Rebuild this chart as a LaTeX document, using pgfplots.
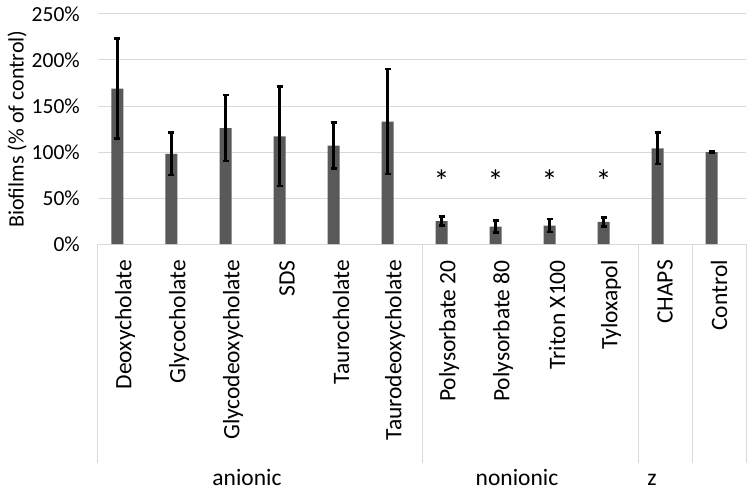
\documentclass[border=0pt]{standalone}
\usepackage{pgfplots}
\pgfplotsset{compat=1.18}
\usepackage{pgfplotstable}
\usepackage{fontspec}
\setmainfont{Carlito}
\definecolor{barg}{RGB}{89,89,89}
\definecolor{gridg}{RGB}{217,217,217}
\pgfplotstableread{
x y e
0 169 54.5
1 98 23
2 126 36
3 117 54
4 107 25
5 133 57
6 25 5
7 19 6.5
8 20 7
9 24 5
10 104 17
11 100 0.6
}\data
\begin{document}
\begin{tikzpicture}
\begin{axis}[
  scale only axis, width=648pt, height=230pt,
  xmin=-0.5, xmax=11.5, ymin=0, ymax=250,
  clip=false,
  axis line style={draw=none},
  xtick={0,...,11},
  xticklabels={Deoxycholate,Glycocholate,Glycodeoxycholate,SDS,Taurocholate,Taurodeoxycholate,Polysorbate 20,Polysorbate 80,Triton X100,Tyloxapol,CHAPS,Control},
  ytick={0,50,...,250},
  yticklabels={0\%,50\%,100\%,150\%,200\%,250\%},
  ymajorgrids, major grid style={draw=gridg, line width=1pt},
  major tick length=0pt,
  tick label style={font=\fontsize{23.5}{28}\selectfont, text=black, inner sep=0pt},
  yticklabel style={font=\fontsize{21.5}{26}\selectfont},
  yticklabel shift=18pt,
  xticklabel style={anchor=east, rotate=90},
  xticklabel shift=16pt,
  ylabel={Biofilms (\% of control)},
  ylabel style={font=\fontsize{22}{26}\selectfont, at={(axis description cs:-0.125,0.5)}, anchor=center},
]
\addplot[ybar, bar width=12pt, bar shift=0pt, xshift=-7.5pt, fill=barg, draw=none,
  error bars/.cd, y dir=both, y explicit,
  error bar style={line width=2.8pt, black},
  error mark options={rotate=90, line width=2.5pt, mark size=3pt, black}]
  table[x=x, y=y, y error=e] {\data};
\addplot[draw=none, mark=none, nodes near coords={*},
  every node near coord/.append style={anchor=center, font=\fontsize{32}{36}\selectfont, xshift=-7.5pt}]
  coordinates {(6,68) (7,68) (8,68) (9,68)};
\foreach \xx in {-0.5,5.5,9.5,10.5,11.5}{
  \edef\temp{\noexpand\draw[gridg, line width=1pt] (axis cs:\xx,0) -- ++(0pt,-219pt);}
  \temp
}
\node[font=\fontsize{23.5}{28}\selectfont, anchor=base] at ([xshift=-13pt, yshift=-241pt]axis cs:2.5,0) {anionic};
\node[font=\fontsize{23.5}{28}\selectfont, anchor=base] at ([xshift=-13pt, yshift=-241pt]axis cs:7.5,0) {nonionic};
\node[font=\fontsize{23.5}{28}\selectfont, anchor=base] at ([xshift=-13pt, yshift=-241pt]axis cs:10,0) {z};
\end{axis}
\pgfresetboundingbox
\path[use as bounding box] ([shift={(-98pt,-248pt)}]current axis.south west) rectangle ([shift={(656pt,244pt)}]current axis.south west);
\end{tikzpicture}
\end{document}
